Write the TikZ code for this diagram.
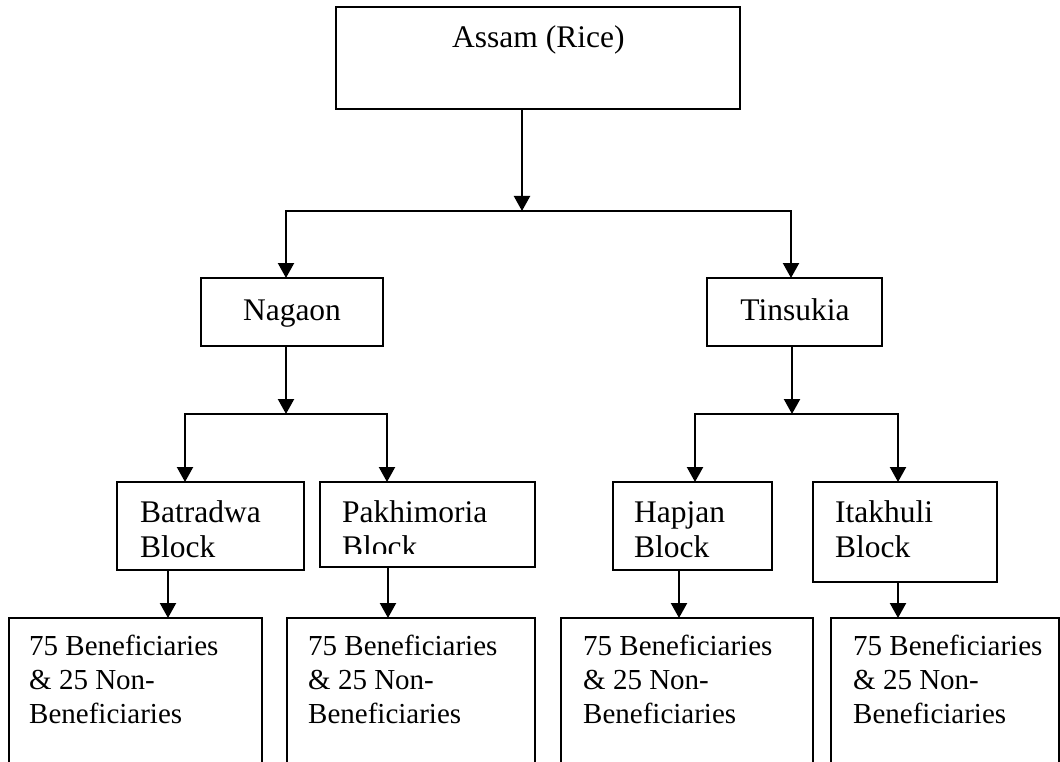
\documentclass[tikz,border=0pt]{standalone}
\usepackage{fontspec}
\setmainfont{Liberation Serif}
\usetikzlibrary{arrows.meta}
\begin{document}
\begin{tikzpicture}[x=1pt,y=-1pt,
  box/.style={draw, line width=1.7pt, inner sep=0pt, outer sep=0pt, anchor=north west},
  conn/.style={line width=2.2pt, line cap=rect},
  arr/.style={line width=2.2pt, -{Triangle[width=16pt,length=15pt]}},
  big/.style={font=\fontsize{31.5}{35}\selectfont, inner sep=0pt, anchor=north west, align=left},
  small/.style={font=\fontsize{29}{34}\selectfont, inner sep=0pt, anchor=north west, align=left},
]
\useasboundingbox (0,0) rectangle (1060,762);
\clip (0,0) rectangle (1060,762);

% boxes
\node[box, minimum width=404pt, minimum height=102pt] (assam) at (336,7) {};
\node[box, minimum width=182pt, minimum height=68pt] (nagaon) at (201,278) {};
\node[box, minimum width=175pt, minimum height=68pt] (tinsukia) at (707,278) {};
\node[box, minimum width=187pt, minimum height=88pt] (batradwa) at (117,482) {};
\node[box, minimum width=215pt, minimum height=85pt] (pakhimoria) at (320,482) {};
\node[box, minimum width=159pt, minimum height=88pt] (hapjan) at (613,482) {};
\node[box, minimum width=184pt, minimum height=100pt] (itakhuli) at (813,482) {};
\node[box, minimum width=253pt, minimum height=200pt] (ben1) at (9,618) {};
\node[box, minimum width=248pt, minimum height=200pt] (ben2) at (287,618) {};
\node[box, minimum width=252pt, minimum height=200pt] (ben3) at (561,618) {};
\node[box, minimum width=228pt, minimum height=200pt] (ben4) at (831,618) {};

% texts
\node[big, anchor=base west] (assamt) at (452,48) {Assam (Rice)};
\node[big, anchor=base] (nagaont) at (292,320) {Nagaon};
\node[big, anchor=base] (tinsukiat) at (795,320) {Tinsukia};
\node[big] (batradwat) at (140,497.5) {\strut Batradwa\\Block};
\begin{scope}
  \clip (320,482) rectangle (535,553.5);
  \node[big] (pakhimoriat) at (342,497.5) {\strut Pakhimoria\\Block};
\end{scope}
\node[big] (hapjant) at (634,497.5) {\strut Hapjan\\Block};
\node[big] (itakhulit) at (835,497.5) {\strut Itakhuli\\Block};
\node[small] (ben1t) at (29,631.2) {\strut 75 Beneficiaries\\\& 25 Non-\\Beneficiaries};
\node[small] (ben2t) at (308,631.2) {\strut 75 Beneficiaries\\\& 25 Non-\\Beneficiaries};
\node[small] (ben3t) at (583,631.2) {\strut 75 Beneficiaries\\\& 25 Non-\\Beneficiaries};
\node[small] (ben4t) at (853,631.2) {\strut 75 Beneficiaries\\\& 25 Non-\\Beneficiaries};

% junction coordinates
\coordinate (j0) at (522,211);
\coordinate (hl0) at (286,211);
\coordinate (hr0) at (791,211);
\coordinate (j1) at (286,414);
\coordinate (hl1) at (185,414);
\coordinate (hr1) at (387,414);
\coordinate (j2) at (792,414);
\coordinate (hl2) at (695,414);
\coordinate (hr2) at (898,414);
\coordinate (xb1) at (168,0);
\coordinate (xb2) at (388,0);
\coordinate (xb3) at (679,0);
\coordinate (xb4) at (898,0);

% connectors
\draw[arr] (assam.south -| j0) -- (j0);
\draw[conn] (hl0) -- (hr0);
\draw[arr] (hl0) -- (nagaon.north -| hl0);
\draw[arr] (hr0) -- (tinsukia.north -| hr0);

\draw[arr] (nagaon.south -| j1) -- (j1);
\draw[conn] (hl1) -- (hr1);
\draw[arr] (hl1) -- (batradwa.north -| hl1);
\draw[arr] (hr1) -- (pakhimoria.north -| hr1);

\draw[arr] (tinsukia.south -| j2) -- (j2);
\draw[conn] (hl2) -- (hr2);
\draw[arr] (hl2) -- (hapjan.north -| hl2);
\draw[arr] (hr2) -- (itakhuli.north -| hr2);

\draw[arr] (batradwa.south -| xb1) -- (ben1.north -| xb1);
\draw[arr] (pakhimoria.south -| xb2) -- (ben2.north -| xb2);
\draw[arr] (hapjan.south -| xb3) -- (ben3.north -| xb3);
\draw[arr] (itakhuli.south -| xb4) -- (ben4.north -| xb4);
\end{tikzpicture}
\end{document}
